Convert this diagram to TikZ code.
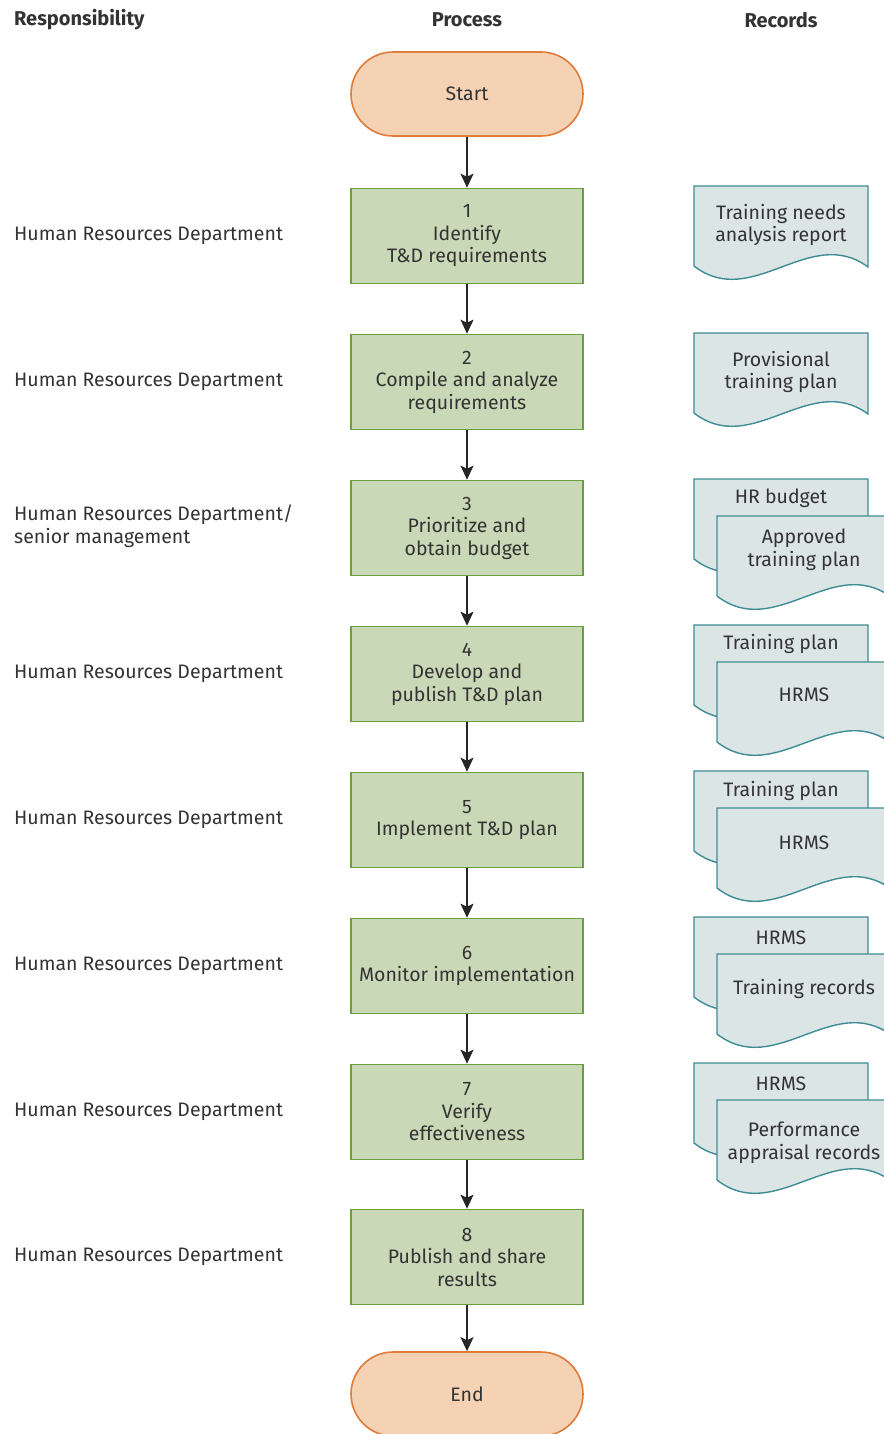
\documentclass[tikz,border=0pt]{standalone}
\usepackage{fontspec}
\setmainfont{Fira Sans}
\usetikzlibrary{shapes.misc,arrows.meta}
\definecolor{termfill}{HTML}{F5D2B4}
\definecolor{termline}{HTML}{E07B39}
\definecolor{stepfill}{HTML}{C9D8B7}
\definecolor{stepline}{HTML}{6A9F3F}
\definecolor{recfill}{HTML}{DCE5E6}
\definecolor{recline}{HTML}{3D8C93}
\definecolor{ink}{HTML}{333333}
\tikzset{
 every node/.style={font=\fontsize{19.5pt}{22.5pt}\selectfont,text=ink,inner sep=0pt},
 terminal/.style={rounded rectangle,draw=termline,fill=termfill,line width=1.6pt,
  minimum width=232pt,minimum height=84pt},
 stepbox/.style={rectangle,draw=stepline,fill=stepfill,line width=1.6pt,
  minimum width=232pt,minimum height=95pt,align=center},
 flow/.style={-{Stealth[length=14pt,width=13pt,inset=3pt]},line width=1.6pt,draw=black!85},
 who/.style={anchor=west,align=left},
 head/.style={font=\fontsize{20pt}{22pt}\selectfont\bfseries},
 rectext/.style={align=center},
 record/.pic={
  \draw[recline,fill=recfill,line width=1.4pt] (0,0) -- (174,0) -- (174,81)
   .. controls (116,38) and (58,125) .. (0,80) -- cycle;
 },
}

\begin{document}
\begin{tikzpicture}[x=1pt,y=-1pt]
        \useasboundingbox (0,0) rectangle (883,1434);

        \node[head,anchor=west] (hresp) at (14,20) {Responsibility};
        \node[head] (hproc) at (467,20) {Process};
        \node[head] (hrec) at (781,20) {Records};

        \node[terminal] (start) at (467,94) {Start};
        \node[stepbox] (s1) at (467,236) {1\\Identify\\T\&D requirements};
        \node[stepbox] (s2) at (467,382) {2\\Compile and analyze\\requirements};
        \node[stepbox] (s3) at (467,528) {3\\Prioritize and\\obtain budget};
        \node[stepbox] (s4) at (467,674) {4\\Develop and\\publish T\&D plan};
        \node[stepbox] (s5) at (467,820) {5\\Implement T\&D plan};
        \node[stepbox] (s6) at (467,966) {6\\Monitor implementation};
        \node[stepbox] (s7) at (467,1112) {7\\Verify\\effectiveness};
        \node[stepbox] (s8) at (467,1257) {8\\Publish and share\\results};
        \node[terminal] (end) at (467,1394) {End};

        \draw[flow] (start) -- (s1);
        \draw[flow] (s1) -- (s2);
        \draw[flow] (s2) -- (s3);
        \draw[flow] (s3) -- (s4);
        \draw[flow] (s4) -- (s5);
        \draw[flow] (s5) -- (s6);
        \draw[flow] (s6) -- (s7);
        \draw[flow] (s7) -- (s8);
        \draw[flow] (s8) -- (end);

        \node[who] (w1) at (14,236) {Human Resources Department};
        \node[who] (w2) at (14,382) {Human Resources Department};
        \node[who] (w3) at (14,526) {Human Resources Department/\\senior management};
        \node[who] (w4) at (14,674) {Human Resources Department};
        \node[who] (w5) at (14,820) {Human Resources Department};
        \node[who] (w6) at (14,966) {Human Resources Department};
        \node[who] (w7) at (14,1112) {Human Resources Department};
        \node[who] (w8) at (14,1257) {Human Resources Department};

        \pic at (694,186) {record};
        \node[rectext] (r1) at (781,225) {Training needs\\analysis report};
        \pic at (694,333) {record};
        \node[rectext] (r2) at (781,372) {Provisional\\training plan};

        \pic at (694,479) {record};
        \node[rectext] (r3a) at (781,498) {HR budget};
        \pic at (717,516) {record};
        \node[rectext] (r3b) at (804,550) {Approved\\training plan};

        \pic at (694,625) {record};
        \node[rectext] (r4a) at (781,644) {Training plan};
        \pic at (717,662) {record};
        \node[rectext] (r4b) at (804,695) {HRMS};

        \pic at (694,771) {record};
        \node[rectext] (r5a) at (781,791) {Training plan};
        \pic at (717,808) {record};
        \node[rectext] (r5b) at (804,843) {HRMS};

        \pic at (694,917) {record};
        \node[rectext] (r6a) at (781,938) {HRMS};
        \pic at (717,954) {record};
        \node[rectext] (r6b) at (804,989) {Training records};

        \pic at (694,1063) {record};
        \node[rectext] (r7a) at (781,1084) {HRMS};
        \pic at (717,1100) {record};
        \node[rectext] (r7b) at (804,1143) {Performance\\appraisal records};
    \end{tikzpicture}
\end{document}
